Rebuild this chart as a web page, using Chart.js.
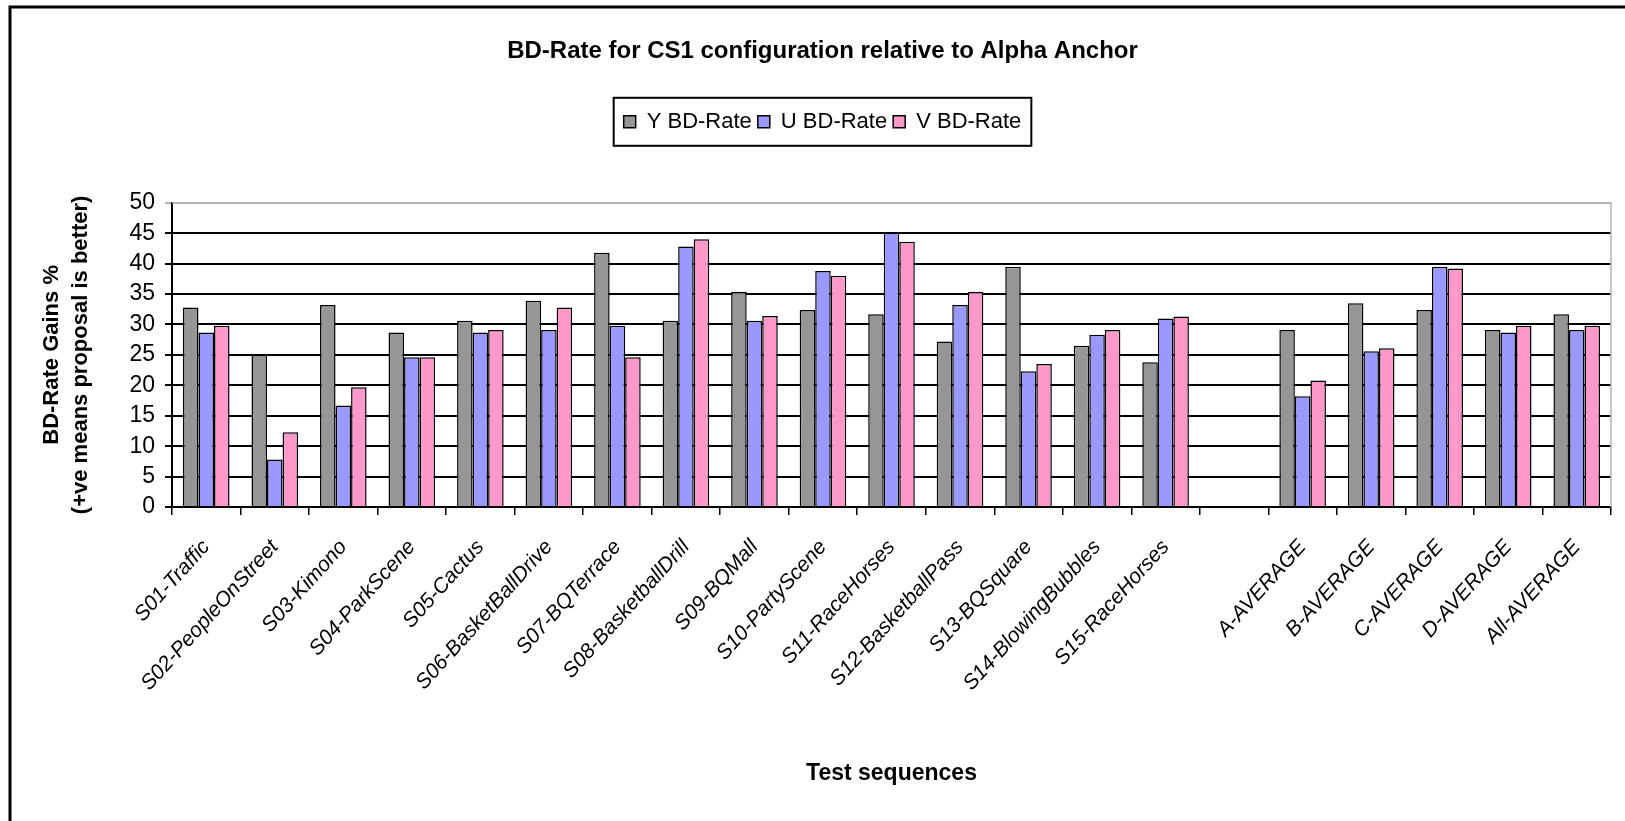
<!DOCTYPE html>
<html>
<head>
<meta charset="utf-8">
<script src="https://cdn.jsdelivr.net/npm/chart.js@4.4.1/dist/chart.umd.min.js"></script>
<style>
  html, body { margin: 0; padding: 0; background: #fff; }
  #wrap { width: 1625px; height: 821px; }
</style>
</head>
<body>
<div id="wrap"><canvas id="bd-rate-chart"></canvas></div>
<script>
// categories (blank slot between the sequences and the averages)
const categories = ['S01-Traffic','S02-PeopleOnStreet','S03-Kimono','S04-ParkScene','S05-Cactus','S06-BasketBallDrive',
    'S07-BQTerrace','S08-BasketballDrill','S09-BQMall','S10-PartyScene','S11-RaceHorses','S12-BasketballPass',
    'S13-BQSquare','S14-BlowingBubbles','S15-RaceHorses','',
    'A-AVERAGE','B-AVERAGE','C-AVERAGE','D-AVERAGE','All-AVERAGE'];
const yRate = [32.8,25.0,33.2,28.7,30.6,33.9,41.8,30.6,35.4,32.4,31.7,27.2,39.5,26.5,23.8,null,29.1,33.5,32.4,29.1,31.7];
const uRate = [28.7,7.8,16.7,24.6,28.7,29.1,29.8,42.8,30.6,38.8,45.1,33.2,22.3,28.3,31.0,null,18.2,25.6,39.5,28.7,29.1];
const vRate = [29.8,12.3,19.7,24.6,29.1,32.8,24.6,44.0,31.4,38.0,43.6,35.4,23.5,29.1,31.3,null,20.8,26.1,39.2,29.8,29.8];
const yTicks = [0,5,10,15,20,25,30,35,40,45,50];

const fontMain = "'Liberation Sans', Arial, sans-serif";

// outer frame, plot border and legend box
const framePlugin = {
    id: 'frame',
    beforeLayout(chart) {
        // extra room under the legend, like the gap above the plot in the original
        const lg = chart.legend;
        if (lg && !lg._patched) {
            const fit = lg.fit.bind(lg);
            lg.fit = function () { fit(); this.height += 60; };
            lg._patched = true;
        }
    },
    afterDraw(chart) {
        const c = chart.ctx;
        const a = chart.chartArea;
        c.save();
        c.strokeStyle = '#000';
        c.lineWidth = 3;
        c.beginPath();
        c.moveTo(10, chart.height);
        c.lineTo(10, 7);
        c.lineTo(chart.width, 7);
        c.stroke();

        c.strokeStyle = '#b4b4b4';
        c.lineWidth = 1.5;
        c.beginPath();
        c.moveTo(a.left, a.top);
        c.lineTo(a.right, a.top);
        c.lineTo(a.right, a.bottom);
        c.stroke();

        const hb = chart.legend.legendHitBoxes;
        if (hb && hb.length) {
            const l = Math.min(...hb.map(h => h.left)) - 10;
            const r = Math.max(...hb.map(h => h.left + h.width)) + 10;
            const t = hb[0].top - 13;
            const b = hb[0].top + hb[0].height + 13;
            c.strokeStyle = '#000';
            c.lineWidth = 2;
            c.strokeRect(l, t, r - l, b - t);
        }
        c.restore();
    }
};

let bdRateChart = new Chart(document.getElementById("bd-rate-chart").getContext("2d"), {
    type: 'bar',
    data: {
        labels: categories,
        datasets: [{
            label: 'Y BD-Rate',
            data: yRate,
            backgroundColor: '#969696',
            borderColor: '#000',
            borderWidth: 1.5
        },
        {
            label: 'U BD-Rate',
            data: uRate,
            backgroundColor: '#9999FF',
            borderColor: '#000',
            borderWidth: 1.5
        },
        {
            label: 'V BD-Rate',
            data: vRate,
            backgroundColor: '#FF99CC',
            borderColor: '#000',
            borderWidth: 1.5
        }]
    },
    plugins: [framePlugin],
    options: {
        responsive: true,
        maintainAspectRatio: false,
        animation: false,
        layout: { padding: { left: 34, right: 14, top: 10, bottom: 30 } },
        datasets: { bar: { categoryPercentage: 0.68, barPercentage: 1.0 } },
        plugins: {
            title: {
                display: true,
                text: 'BD-Rate for CS1 configuration relative to Alpha Anchor',
                color: '#000',
                font: { family: fontMain, size: 24, weight: 'bold' },
                padding: { top: 27, bottom: 39 }
            },
            legend: {
                display: true,
                labels: {
                    color: '#000',
                    font: { family: fontMain, size: 22 },
                    boxWidth: 12,
                    boxHeight: 12,
                    padding: 6
                }
            },
            tooltip: { enabled: false }
        },
        scales: {
            x: {
                afterFit(scale) { scale.height = 284; },
                grid: { display: true, drawOnChartArea: false, drawTicks: true, tickLength: 8, color: '#000', lineWidth: 1.5 },
                border: { color: '#000', width: 2 },
                ticks: {
                    color: '#000',
                    autoSkip: false,
                    minRotation: 48,
                    maxRotation: 48,
                    padding: 20,
                    font: { family: fontMain, size: 21, style: 'italic' }
                },
                title: {
                    display: true,
                    text: 'Test sequences',
                    color: '#000',
                    font: { family: fontMain, size: 23, weight: 'bold' }
                }
            },
            y: {
                min: 0,
                max: 50,
                afterFit(scale) { scale.width = 138; },
                afterBuildTicks(scale) { scale.ticks = yTicks.map(v => ({ value: v })); },
                grid: {
                    color: (ctx) => (ctx.tick && ctx.tick.value === 50 ? '#b4b4b4' : '#000'),
                    lineWidth: 2,
                    tickLength: 7
                },
                border: { color: '#000', width: 2 },
                ticks: {
                    color: '#000',
                    autoSkip: false,
                    padding: 10,
                    font: { family: fontMain, size: 23 }
                },
                title: {
                    display: true,
                    text: ['BD-Rate Gains %', '(+ve means proposal is better)'],
                    color: '#000',
                    font: { family: fontMain, size: 22, weight: 'bold', lineHeight: 1.3 }
                }
            }
        }
    }
});
</script>
</body>
</html>
